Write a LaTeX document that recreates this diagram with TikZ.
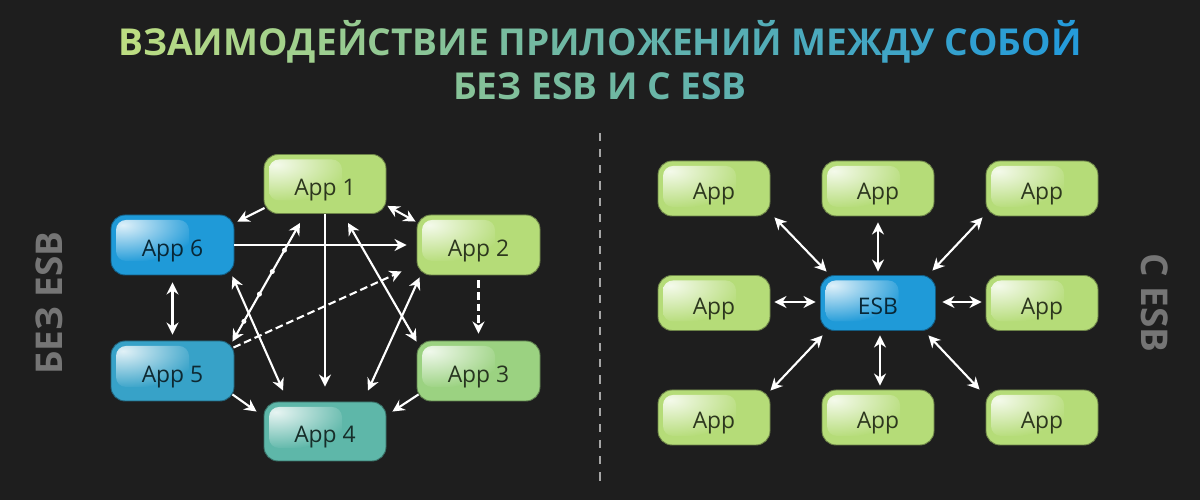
\documentclass[tikz,border=0pt]{standalone}
\usepackage{fontspec}
\setmainfont{Open Sans}
\usetikzlibrary{arrows.meta}
\definecolor{bgdark}{HTML}{1E1E1E}
\definecolor{sidegray}{HTML}{757575}
\definecolor{titlegreen}{HTML}{BCDD82}
\definecolor{titleteal}{HTML}{70B8A2}
\definecolor{titleblue}{HTML}{2F9FD2}
\definecolor{appgreen}{HTML}{B5DC78}
\definecolor{appsage}{HTML}{9BD281}
\definecolor{appteal}{HTML}{5EB7A9}
\definecolor{appcyan}{HTML}{37A2C8}
\definecolor{appblue}{HTML}{1F9AD8}
\tikzstyle{appbox} = [rectangle, rounded corners=0.14cm, inner sep=0pt, fill=#1,
draw=#1!60!black, line width=0.25pt, text=#1!25!black, minimum width=1.22cm,
minimum height=0.59cm, text height=6.5pt, text depth=0pt,
font=\fontsize{6.5}{7}\selectfont,
path picture={\begin{scope}
\clip[rounded corners=0.1cm] ([shift={(0.05,-0.05)}]path picture bounding box.north west)
rectangle ([shift={(0.78,-0.46)}]path picture bounding box.north west);
\shade[inner color=white!85!#1, outer color=#1] ([shift={(0.12,-0.1)}]path picture bounding box.north west)
ellipse [x radius=0.76cm, y radius=0.38cm];
\end{scope}}]
\tikzstyle{gridbox} = [appbox=#1, minimum width=1.12cm, minimum height=0.55cm]
\tikzstyle{arrow} = [white, line width=0.6pt, ->, >={Stealth[length=0.12cm, width=0.12cm]}]
\tikzstyle{both} = [arrow, <->]
\tikzstyle{dashes} = [dash pattern=on 2.2pt off 1.1pt]
\tikzstyle{dotmark} = [circle, fill=white, inner sep=0pt, minimum size=0.05cm]
\tikzstyle{sidelabel} = [text=sidegray, font=\fontsize{10.5}{12}\selectfont\bfseries]
% letter by letter colour for the heading
\makeatletter
\newcount\gradpos
\newcount\gradstep
\newcommand{\gradword}[1]{\@tfor\gradchar:=#1\do{{%
    \ifnum\gradpos<50
        \color{titleteal!\the\numexpr2*\gradpos\relax!titlegreen}%
    \else
        \color{titleblue!\the\numexpr2*\gradpos-100\relax!titleteal}%
    \fi\gradchar}\global\advance\gradpos by \gradstep}%
    \global\advance\gradpos by \gradstep}
\makeatother

\begin{document}
\begin{tikzpicture}

        \fill[bgdark] (0,0) rectangle (12,5);

        \node (HEAD) [align=center, font=\fontsize{10.55}{12.6}\selectfont\bfseries] at (6,4.4) {%
            \gradpos=0 \gradstep=3
            \gradword{ВЗАИМОДЕЙСТВИЕ} \gradword{ПРИЛОЖЕНИЙ} \gradword{МЕЖДУ} \gradword{СОБОЙ}\\
            \gradpos=35 \gradstep=2
            \gradword{БЕЗ} \gradword{ESB} \gradword{И} \gradword{С} \gradword{ESB}};

        \node (NO) [sidelabel, rotate=90] at (0.49,1.97) {БЕЗ ESB};
        \node (WITH) [sidelabel, rotate=-90] at (11.55,1.97) {С ESB};

        \coordinate (D1) at (6,3.67);
        \coordinate (D2) at (6,0.15);
        \draw [white!65!black, line width=0.3pt, dash pattern=on 2.3pt off 2.3pt] (D1) -- (D2);

        % left side
        \node (A1) [appbox=appgreen] at (3.25,3.16) {App 1};
        \node (A4) [appbox=appteal] at (3.25,0.685) {App 4};
        \node (A6) [appbox=appblue, minimum width=1.23cm, minimum height=0.6cm] at (1.725,2.55) {App 6};
        \node (A2) [appbox=appgreen, minimum width=1.23cm, minimum height=0.6cm, right of=A6, node distance=3.06cm] {App 2};
        \node (A5) [appbox=appcyan, minimum width=1.23cm, minimum height=0.6cm, below of=A6, node distance=1.26cm] {App 5};
        \node (A3) [appbox=appsage, minimum width=1.23cm, minimum height=0.6cm, right of=A5, node distance=3.06cm] {App 3};

        \draw [arrow] ([shift={(0.01,0.06)}]A1.south west) -- ([shift={(0.03,-0.07)}]A6.north east);
        \draw [both] ([shift={(0.01,0.08)}]A1.south east) -- ([shift={(-0.01,-0.07)}]A2.north west);
        \draw [arrow] (A6.east) -- ([xshift=-0.1cm]A2.west);
        \draw [arrow] (A1.south) -- ([yshift=0.15cm]A4.north);
        \draw [both] ([shift={(-0.25,-0.09)}]A1.south) --
            node[dotmark, pos=0.23] (P1) {} node[dotmark, pos=0.41] (P2) {}
            node[dotmark, pos=0.6] (P3) {} node[dotmark, pos=0.83] (P4) {}
            ([shift={(-0.02,-0.01)}]A5.north east);
        \draw [both] ([shift={(0.23,-0.09)}]A1.south) -- ([yshift=-0.01cm]A3.north west);
        \draw [both] ([shift={(-0.02,-0.01)}]A6.south east) -- ([shift={(-0.42,0.11)}]A4.north);
        \draw [arrow, dashes] ([shift={(-0.01,-0.07)}]A5.north east) -- ([shift={(-0.15,0.04)}]A2.south west);
        \draw [both] ([shift={(0.03,-0.02)}]A2.south west) -- ([shift={(0.43,0.11)}]A4.north);
        \draw [arrow, dashes] ([yshift=-0.05cm]A2.south) -- ([yshift=0.07cm]A3.north);
        \draw [both] ([yshift=-0.07cm]A6.south) -- ([yshift=0.06cm]A5.north);
        \draw [arrow] ([shift={(-0.02,0.07)}]A5.south east) -- ([shift={(-0.07,-0.1)}]A4.north west);
        \draw [arrow] ([shift={(0.02,0.07)}]A3.south west) -- ([shift={(0.06,-0.1)}]A4.north east);

        % right side
        \node (ESB) [gridbox=appblue, minimum width=1.15cm] at (8.78,1.97) {ESB};
        \node (T) [gridbox=appgreen, above of=ESB, node distance=1.145cm] {App};
        \node (B) [gridbox=appgreen, below of=ESB, node distance=1.145cm] {App};
        \node (L) [gridbox=appgreen, left of=ESB, node distance=1.64cm] {App};
        \node (R) [gridbox=appgreen, right of=ESB, node distance=1.64cm] {App};
        \node (TL) [gridbox=appgreen, left of=T, node distance=1.64cm] {App};
        \node (TR) [gridbox=appgreen, right of=T, node distance=1.64cm] {App};
        \node (BL) [gridbox=appgreen, left of=B, node distance=1.64cm] {App};
        \node (BR) [gridbox=appgreen, right of=B, node distance=1.64cm] {App};

        \draw [both] ([shift={(0.04,-0.01)}]TL.south east) -- ([shift={(0.065,0.035)}]ESB.north west);
        \draw [both] ([yshift=-0.06cm]T.south) -- ([yshift=0.035cm]ESB.north);
        \draw [both] ([shift={(-0.03,-0.01)}]TR.south west) -- ([shift={(-0.035,0.045)}]ESB.north east);
        \draw [both] ([shift={(0.04,0.01)}]L.east) -- ([shift={(-0.045,0.01)}]ESB.west);
        \draw [both] ([shift={(0.065,0.01)}]ESB.east) -- ([shift={(-0.04,0.01)}]R.west);
        \draw [both] ([shift={(0.025,-0.045)}]ESB.south west) -- ([yshift=-0.01cm]BL.north east);
        \draw [both] ([shift={(0.02,-0.045)}]ESB.south) -- ([shift={(0.02,0.04)}]B.north);
        \draw [both] ([shift={(-0.075,-0.045)}]ESB.south east) -- ([xshift=-0.06cm]BR.north west);

\end{tikzpicture}
\end{document}
